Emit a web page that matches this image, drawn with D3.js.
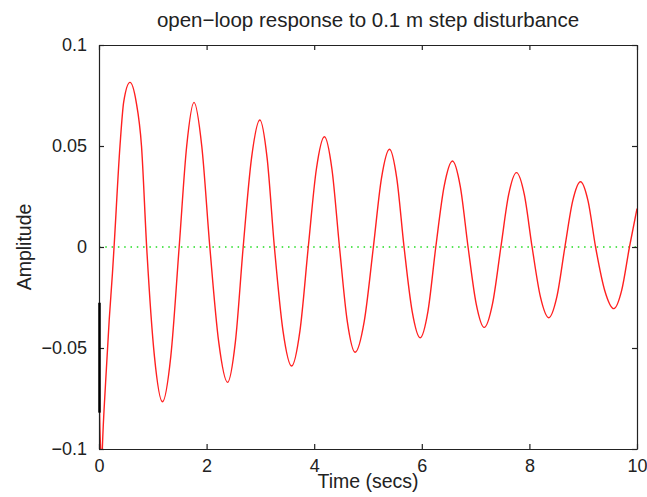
<!DOCTYPE html>
<html>
<head>
<meta charset="utf-8">
<script src="https://cdn.jsdelivr.net/npm/d3@7"></script>
<style>
  body { margin: 0; background: #fff; }
  text { font-family: "Liberation Sans", Arial, sans-serif; fill: #222; }
</style>
</head>
<body>
<div class="canvas"></div>
<script>
// data
const respTime = [0, 0.005, 0.01, 0.03, 0.05, 0.062, 0.125, 0.19, 0.25, 0.28, 0.39, 0.46, 0.576, 0.69, 0.79,
  0.886, 1.03, 1.18, 1.335, 1.49, 1.63, 1.766, 1.91, 2.06, 2.225, 2.39, 2.535, 2.68, 2.835, 2.99, 3.125,
  3.26, 3.42, 3.58, 3.735, 3.89, 4.04, 4.19, 4.33, 4.47, 4.615, 4.76, 4.93, 5.10, 5.25, 5.40, 5.535,
  5.67, 5.82, 5.97, 6.115, 6.26, 6.415, 6.57, 6.715, 6.86, 7.01, 7.16, 7.315, 7.47, 7.615, 7.76, 7.905,
  8.05, 8.205, 8.36, 8.51, 8.66, 8.805, 8.95, 9.09, 9.23, 9.40, 9.57, 9.715, 9.86, 10];
const respAmp = [0, -0.04, -0.08, -0.1, -0.11, -0.1, -0.066, -0.036, -0.013, 0, 0.05, 0.072, 0.0815, 0.072, 0.05,
  0, -0.054, -0.0766, -0.054, 0, 0.05, 0.0716, 0.05, 0, -0.047, -0.067, -0.047, 0, 0.044, 0.0629, 0.044,
  0, -0.0415, -0.0589, -0.0415, 0, 0.0385, 0.0546, 0.0385, 0, -0.0368, -0.0521, -0.0368, 0, 0.034, 0.0484, 0.034,
  0, -0.0317, -0.0449, -0.0317, 0, 0.03, 0.0426, 0.03, 0, -0.028, -0.0398, -0.028, 0, 0.026, 0.0368, 0.026,
  0, -0.0247, -0.035, -0.0247, 0, 0.0228, 0.0323, 0.0228, 0, -0.0215, -0.0305, -0.0215, 0, 0.019];

// short black trace hugging the y axis
const blackTime = [0, 0];
const blackAmp = [-0.0276, -0.082];

// zero reference line
const refTime = [0, 10];
const refAmp = [0, 0];

const xTicks = [0, 2, 4, 6, 8, 10];
const yTicks = [-0.1, -0.05, 0, 0.05, 0.1];
const yTickLabels = ['\u22120.1', '\u22120.05', '0', '0.05', '0.1'];

const dims = { width: 647, height: 497 };
const margin = { left: 99, right: 10, top: 45, bottom: 48 };
const plotW = dims.width - margin.left - margin.right;
const plotH = dims.height - margin.top - margin.bottom;

const svg = d3.select('.canvas')
            .append('svg')
            .attr('width', dims.width)
            .attr('height', dims.height);

const x = d3.scaleLinear().domain([0, 10]).range([0, plotW]);
const y = d3.scaleLinear().domain([-0.1, 0.1]).range([plotH, 0]);

const graph = svg.append('g')
              .attr('transform', `translate(${margin.left}, ${margin.top})`);

graph.append('clipPath').attr('id', 'clip')
     .append('rect').attr('width', plotW).attr('height', plotH);

const zip = (ts, vs) => ts.map((t, i) => [t, vs[i]]);

const line = d3.line()
               .x(d => x(d[0]))
               .y(d => y(d[1]));

const plot = graph.append('g').attr('clip-path', 'url(#clip)');

// green dotted zero line
plot.append('path')
    .attr('d', line(zip(refTime, refAmp)))
    .attr('fill', 'none')
    .attr('stroke', '#22dd22')
    .attr('stroke-width', 1.5)
    .attr('stroke-dasharray', '1.5 4.8');

// response curve
plot.append('path')
    .attr('d', line.curve(d3.curveMonotoneX)(zip(respTime, respAmp)))
    .attr('fill', 'none')
    .attr('stroke', '#ff2020')
    .attr('stroke-width', 1.4);

// axes: box with inward ticks on all four sides
const tickLen = 5;
const axisStyle = g => {
  g.select('.domain').attr('stroke', '#222').attr('stroke-width', 1.2);
  g.selectAll('.tick line').attr('stroke', '#222').attr('stroke-width', 1.2);
  g.selectAll('text').attr('font-size', '18px').attr('fill', '#222');
};

graph.append('g')
     .attr('transform', `translate(0, ${plotH})`)
     .call(d3.axisBottom(x).tickValues(xTicks).tickSizeInner(-tickLen).tickSizeOuter(0).tickPadding(10).tickFormat(d3.format('d')))
     .call(axisStyle)
     .call(g => g.selectAll('text').attr('font-family', null));

graph.append('g')
     .call(d3.axisTop(x).tickValues(xTicks).tickSizeInner(-tickLen).tickSizeOuter(0).tickFormat(''))
     .call(axisStyle);

graph.append('g')
     .call(d3.axisLeft(y).tickValues(yTicks).tickSizeInner(-tickLen).tickSizeOuter(0).tickPadding(12)
       .tickFormat((d, i) => yTickLabels[i]))
     .call(axisStyle)
     .call(g => g.selectAll('text').attr('font-family', null));

graph.append('g')
     .attr('transform', `translate(${plotW}, 0)`)
     .call(d3.axisRight(y).tickValues(yTicks).tickSizeInner(-tickLen).tickSizeOuter(0).tickFormat(''))
     .call(axisStyle);

// black trace drawn over the left axis, not clipped
line.curve(d3.curveLinear);
graph.append('path')
     .attr('d', line(zip(blackTime, blackAmp)))
     .attr('transform', 'translate(0.5, 0)')
     .attr('fill', 'none')
     .attr('stroke', '#000')
     .attr('stroke-width', 2.5);

// titles
svg.append('text')
   .attr('x', 368)
   .attr('y', 27)
   .attr('text-anchor', 'middle')
   .attr('font-size', '20.5px')
   .text('open\u2212loop response to 0.1 m step disturbance');

svg.append('text')
   .attr('x', 368)
   .attr('y', 488)
   .attr('text-anchor', 'middle')
   .attr('font-size', '19.5px')
   .text('Time (secs)');

svg.append('text')
   .attr('transform', `translate(31, ${margin.top + plotH / 2}) rotate(-90)`)
   .attr('text-anchor', 'middle')
   .attr('font-size', '19.5px')
   .text('Amplitude');
</script>
</body>
</html>
